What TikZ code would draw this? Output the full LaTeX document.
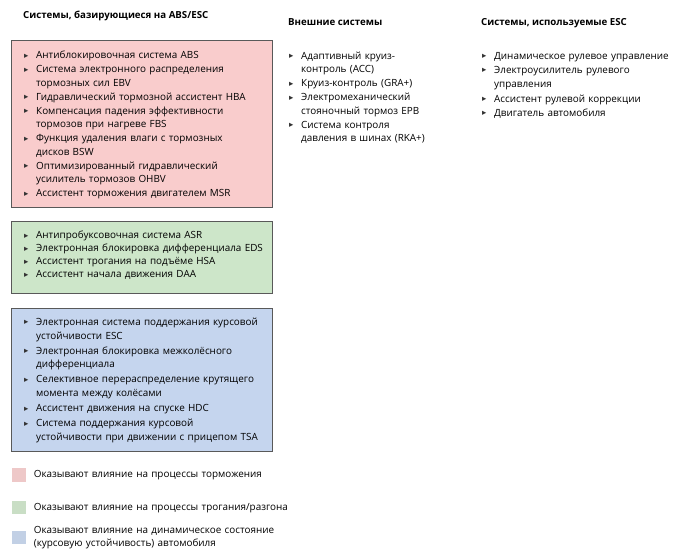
\documentclass[tikz,border=0pt]{standalone}
\usepackage{fontspec}
\setmainfont{Open Sans}
\newfontfamily\trifont{DejaVu Sans}
\usepackage{tikz}
\usetikzlibrary{positioning}

\definecolor{brakered}{HTML}{F9CCCC}
\definecolor{startgreen}{HTML}{CDE6C9}
\definecolor{dynblue}{HTML}{C5D5EE}

% bullet and list item
\newcommand{\tri}{\raisebox{0.6pt}{\trifont\fontsize{8.5}{8.5}\selectfont\color{black!80}▸}}
\newcommand{\itm}[1]{\par\hangindent=12pt\hangafter=1\noindent\makebox[12pt][l]{\tri}#1\par}

\begin{document}
\begin{tikzpicture}[
  x=1pt,y=-1pt,
  head/.style={
    anchor=base west,
    inner sep=0pt,
    font=\fontsize{9.7}{12}\selectfont\bfseries
  },
  group/.style={
    draw=black!65,
    line width=0.7pt,
    anchor=north west,
    inner sep=0pt,
    minimum width=261pt
  },
  list/.style={
    anchor=north west,
    inner sep=0pt,
    text width=#1,
    align=left,
    font=\fontsize{9.9}{13.3}\selectfont\setlength{\parskip}{0.8pt}
  },
  list/.default=250pt,
  key/.style={
    minimum size=13.5pt,
    inner sep=0pt
  },
  keytext/.style={
    right=7.5pt of #1,
    inner sep=0pt,
    text width=300pt,
    align=left,
    font=\fontsize{9.9}{13}\selectfont
  }
]
\useasboundingbox (0,0) rectangle (680,558);

% column headings
\node[head] (abshead) at (23,18.5) {Системы, базирующиеся на ABS/ESC};
\node[head] (exthead) at (288,25) {Внешние системы};
\node[head] (eschead) at (481,25) {Системы, используемые ESC};

% braking group
\node[group, fill=brakered, minimum height=167pt] (brakebox) at (11,40) {};
\node[list] (brakelist) at (24,44.5)
  {\itm{Антиблокировочная система ABS}
   \itm{Система электронного распределения\newline тормозных сил EBV}
   \itm{Гидравлический тормозной ассистент HBA}
   \itm{Компенсация падения эффективности\newline тормозов при нагреве FBS}
   \itm{Функция удаления влаги с тормозных\newline дисков BSW}
   \itm{Оптимизированный гидравлический\newline усилитель тормозов OHBV}
   \itm{Ассистент торможения двигателем MSR}};

% starting group
\node[group, fill=startgreen, minimum height=71.7pt] (startbox) at (11,221) {};
\node[list, font=\fontsize{9.9}{13}\selectfont\setlength{\parskip}{0pt}] (startlist) at (24,225.5)
  {\itm{Антипробуксовочная система ASR}
   \itm{Электронная блокировка дифференциала EDS}
   \itm{Ассистент трогания на подъёме HSA}
   \itm{Ассистент начала движения DAA}};

% stability group
\node[group, fill=dynblue, minimum height=143.6pt] (dynbox) at (11,307.7) {};
\node[list, font=\fontsize{9.9}{13.8}\selectfont\setlength{\parskip}{1.2pt}] (dynlist) at (24,310)
  {\itm{Электронная система поддержания курсовой\newline устойчивости ESC}
   \itm{Электронная блокировка межколёсного\newline дифференциала}
   \itm{Селективное перераспределение крутящего\newline момента между колёсами}
   \itm{Ассистент движения на спуске HDC}
   \itm{Система поддержания курсовой\newline устойчивости при движении с прицепом TSA}};

% external systems
\node[list=175pt] (extlist) at (289,45)
  {\itm{Адаптивный круиз-\newline контроль (ACC)}
   \itm{Круиз-контроль (GRA+)}
   \itm{Электромеханический\newline стояночный тормоз EPB}
   \itm{Система контроля\newline давления в шинах (RKA+)}};

% systems used by ESC
\node[list=195pt, font=\fontsize{9.9}{14.2}\selectfont\setlength{\parskip}{0.2pt}] (esclist) at (482,44.5)
  {\itm{Динамическое рулевое управление}
   \itm{Электроусилитель рулевого\newline управления}
   \itm{Ассистент рулевой коррекции}
   \itm{Двигатель автомобиля}};

% legend
\node[key, fill=brakered!95!black!90] (brakekey) at (19.2,475) {};
\node[key, fill=startgreen!95!black!90] (startkey) at (19.2,507.7) {};
\node[key, fill=dynblue!95!black!90] (dynkey) at (19.2,537.5) {};
\node[keytext=brakekey] (braketext) {Оказывают влияние на процессы торможения};
\node[keytext=startkey] (starttext) {Оказывают влияние на процессы трогания/разгона};
\node[keytext=dynkey] (dyntext) {Оказывают влияние на динамическое состояние\\(курсовую устойчивость) автомобиля};
\end{tikzpicture}
\end{document}
